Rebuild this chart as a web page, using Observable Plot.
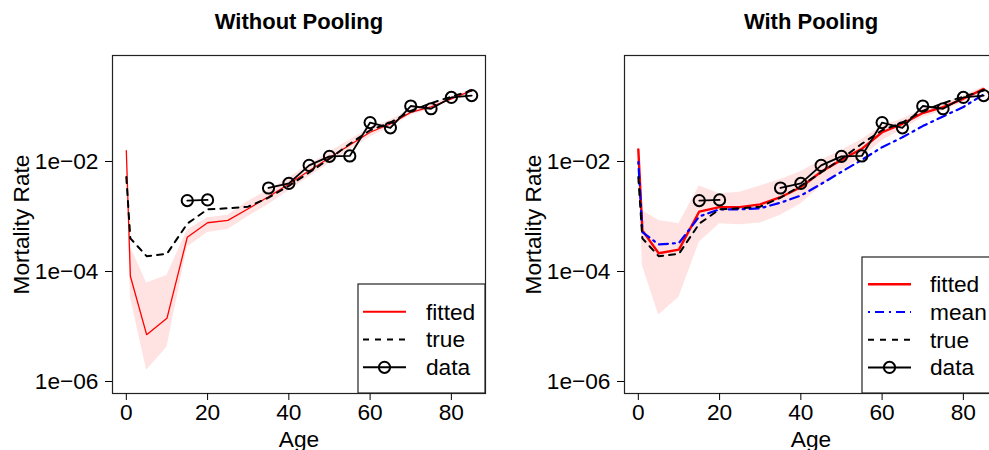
<!DOCTYPE html>
<html><head><meta charset="utf-8">
<script src="https://cdn.jsdelivr.net/npm/d3@7"></script>
<script src="https://cdn.jsdelivr.net/npm/@observablehq/plot@0.6"></script>
<style>
body{margin:0;background:#fff;overflow:hidden}
#wrap{position:relative;width:989px;height:450px;overflow:hidden;background:#fff}
#wrap svg{position:absolute;top:0}
</style></head><body><div id="wrap"></div>
<script>
// Ages (abridged life table)
const ages = [0, 1, 5, 10, 15, 20, 25, 30, 35, 40, 45, 50, 55, 60, 65, 70, 75, 80, 85];
// Observed data (null = missing)
const observed = [null, null, null, null, 1.95e-3, 2.0e-3, null, null, 3.3e-3, 4.0e-3, 8.5e-3, 1.24e-2, 1.26e-2, 5.1e-2, 4.1e-2, 0.102, 0.091, 0.146, 0.158];
// True rates
const trueRate = [5.2e-3, 4.0e-4, 1.9e-4, 2.1e-4, 7.4e-4, 1.35e-3, 1.41e-3, 1.51e-3, 2.2e-3, 3.6e-3, 6.3e-3, 1.12e-2, 2.1e-2, 3.7e-2, 5.1e-2, 8.3e-2, 0.115, 0.151, 0.195];
// Without pooling: fitted and band
const fittedNoPool = [1.58e-2, 8.2e-5, 7.1e-6, 1.41e-5, 4.2e-4, 7.7e-4, 8.5e-4, 1.38e-3, 2.29e-3, 3.9e-3, 6.8e-3, 1.17e-2, 2.0e-2, 3.4e-2, 4.8e-2, 7.8e-2, 9.8e-2, 0.138, 0.195];
const upperNoPool = [1.78e-2, 2.8e-4, 6.2e-5, 8.5e-5, 5.6e-4, 9.5e-4, 1.05e-3, 1.9e-3, 3.0e-3, 5.0e-3, 8.7e-3, 1.48e-2, 2.45e-2, 4.1e-2, 5.6e-2, 8.7e-2, 0.107, 0.148, 0.209];
const lowerNoPool = [1.41e-2, 3.4e-5, 1.6e-6, 4.2e-6, 2.75e-4, 5.1e-4, 5.8e-4, 1.0e-3, 1.66e-3, 2.95e-3, 5.2e-3, 9.3e-3, 1.62e-2, 2.8e-2, 4.2e-2, 6.9e-2, 8.9e-2, 0.129, 0.182];
// With pooling: fitted, mean and band
const fittedPool = [1.66e-2, 5.6e-4, 2.15e-4, 2.5e-4, 1.23e-3, 1.48e-3, 1.48e-3, 1.66e-3, 2.24e-3, 3.4e-3, 6.5e-3, 1.07e-2, 1.7e-2, 3.4e-2, 4.85e-2, 7.6e-2, 9.7e-2, 0.138, 0.209];
const meanPool = [9.8e-3, 5.2e-4, 3.1e-4, 3.3e-4, 1.0e-3, 1.35e-3, 1.35e-3, 1.41e-3, 1.78e-3, 2.4e-3, 3.9e-3, 6.5e-3, 1.07e-2, 1.82e-2, 2.75e-2, 4.4e-2, 6.6e-2, 9.8e-2, 0.166];
const upperPool = [1.82e-2, 1.29e-3, 8.5e-4, 7.4e-4, 3.6e-3, 2.6e-3, 2.75e-3, 3.6e-3, 4.7e-3, 6.5e-3, 1.05e-2, 1.58e-2, 2.5e-2, 4.4e-2, 5.9e-2, 8.9e-2, 0.112, 0.155, 0.229];
const lowerPool = [1.51e-2, 1.29e-4, 1.62e-5, 3.4e-5, 3.4e-4, 7.4e-4, 7.1e-4, 7.6e-4, 1.05e-3, 1.7e-3, 3.55e-3, 6.8e-3, 1.17e-2, 2.4e-2, 3.8e-2, 6.3e-2, 8.3e-2, 0.12, 0.19];

const xTicks = [0, 20, 40, 60, 80];
const yTicks = [1e-6, 1e-4, 1e-2];
const yTickLabels = ["1e\u221206", "1e\u221204", "1e\u221202"];
const xDomain = [-3.4, 88.4];
const yDomain = [Math.pow(10, -6.218), Math.pow(10, -0.073)];
const FONT = "'Liberation Sans', Arial, Helvetica, sans-serif";

function panel({title, fitted, lower, upper, mean, fittedWidth, legend}) {
  const rows = ages.map((a, i) => ({
    age: a, fitted: fitted[i], lower: lower[i], upper: upper[i],
    truth: trueRate[i], mean: mean ? mean[i] : null, data: observed[i]
  }));
  const marks = [
    Plot.areaY(rows, {x: "age", y1: "lower", y2: "upper", fill: "#ffe2e2"}),
    Plot.line(rows, {x: "age", y: "fitted", stroke: "#ff0000", strokeWidth: fittedWidth}),
  ];
  if (mean) marks.push(Plot.line(rows, {x: "age", y: "mean", stroke: "#0000ff", strokeWidth: 2.2, strokeDasharray: "2,5,9,5"}));
  marks.push(
    Plot.line(rows, {x: "age", y: "truth", stroke: "#000", strokeWidth: 2, strokeDasharray: "6,6"}),
    Plot.line(rows, {x: "age", y: "data", stroke: "#000", strokeWidth: 1.8}),
    Plot.dot(rows.filter(d => d.data != null), {x: "age", y: "data", r: 5.6, stroke: "#000", strokeWidth: 2, fill: "none"}),
    Plot.frame({stroke: "#222", strokeWidth: 1.2}),
    Plot.axisX({ticks: xTicks, tickSize: 7, tickPadding: 3, label: "Age", labelAnchor: "center", labelArrow: "none", labelOffset: 53}),
    Plot.axisY({ticks: yTicks, tickSize: 7, tickPadding: 7, tickFormat: d => yTickLabels[yTicks.indexOf(d)], label: "Mortality Rate", labelAnchor: "center", labelArrow: "none", labelOffset: 100}),
    Plot.text([title], {text: d => d, frameAnchor: "top", dy: -27, lineAnchor: "bottom", fontWeight: "bold", fontSize: 22})
  );
  const svg = Plot.plot({
    width: 512, height: 450,
    marginLeft: 112, marginRight: 27, marginTop: 55, marginBottom: 57,
    style: {fontFamily: FONT, fontSize: "22.7px", color: "#000", background: "transparent", overflow: "visible"},
    x: {domain: xDomain},
    y: {type: "log", domain: yDomain},
    marks
  });
  // legend box
  const g = d3.select(svg).append("g").attr("font-family", FONT).attr("font-size", 22.7).attr("text-anchor", "start");
  g.append("rect").attr("x", legend.x).attr("y", legend.y).attr("width", legend.w).attr("height", legend.h)
    .attr("fill", "#fff").attr("stroke", "#222").attr("stroke-width", 1.2);
  legend.items.forEach((it, i) => {
    const cy = legend.y + legend.first + i * legend.step;
    const x1 = legend.x + legend.sx, x2 = x1 + 43;
    g.append("line").attr("x1", x1).attr("x2", x2).attr("y1", cy).attr("y2", cy)
      .attr("stroke", it.color).attr("stroke-width", it.width).attr("stroke-dasharray", it.dash || null);
    if (it.dot) g.append("circle").attr("cx", (x1 + x2) / 2).attr("cy", cy).attr("r", 5.6)
      .attr("fill", "none").attr("stroke", "#000").attr("stroke-width", 2);
    g.append("text").attr("x", legend.x + 68).attr("y", cy).attr("dy", "0.35em")
      .attr("text-anchor", "start").attr("fill", "#000").text(it.label);
  });
  return svg;
}

const wrap = document.getElementById("wrap");
const left = panel({
  title: "Without Pooling", fitted: fittedNoPool, lower: lowerNoPool, upper: upperNoPool, mean: null, fittedWidth: 1.3,
  legend: {x: 358, y: 284, w: 127, h: 109, first: 27.7, step: 27.8, sx: 5, items: [
    {label: "fitted", color: "#ff0000", width: 2},
    {label: "true", color: "#000", width: 2, dash: "6,6"},
    {label: "data", color: "#000", width: 2, dot: true}
  ]}
});
left.style.left = "0px";
const right = panel({
  title: "With Pooling", fitted: fittedPool, lower: lowerPool, upper: upperPool, mean: meanPool, fittedWidth: 2.4,
  legend: {x: 350, y: 257, w: 150, h: 136, first: 27.3, step: 27.7, sx: 6, items: [
    {label: "fitted", color: "#ff0000", width: 2.4},
    {label: "mean", color: "#0000ff", width: 2.2, dash: "2,5,9,5"},
    {label: "true", color: "#000", width: 2, dash: "6,6"},
    {label: "data", color: "#000", width: 2, dot: true}
  ]}
});
right.style.left = "512px";
wrap.appendChild(left);
wrap.appendChild(right);
</script>
</body></html>
